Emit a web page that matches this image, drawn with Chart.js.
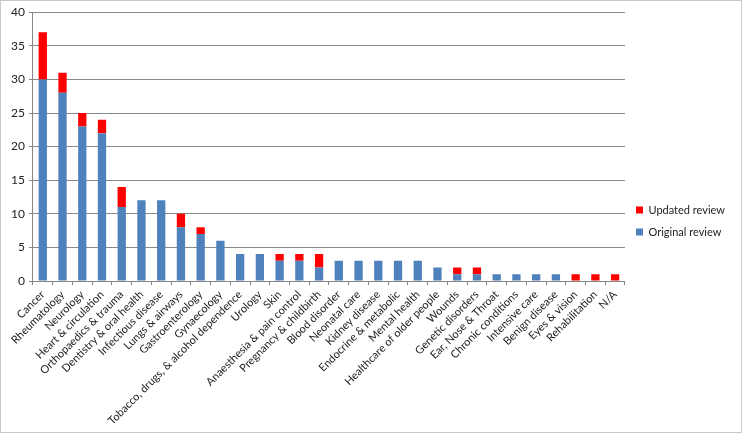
<!DOCTYPE html>
<html>
<head>
<meta charset="utf-8">
<script src="https://cdn.jsdelivr.net/npm/chart.js@4"></script>
<style>
  html, body { margin: 0; padding: 0; background: #fff; }
  .wrap { position: relative; width: 740px; height: 431px; border: 1px solid #c8c8c8; }
</style>
</head>
<body>
<div class="wrap"><canvas id="chart"></canvas></div>
<script>
const categories = [
  "Cancer", "Rheumatology", "Neurology", "Heart & circulation", "Orthopaedics & trauma",
  "Dentistry & oral health", "Infectious disease", "Lungs & airways", "Gastroenterology", "Gynaecology",
  "Tobacco, drugs, & alcohol dependence", "Urology", "Skin", "Anaesthesia & pain control", "Pregnancy & childbirth",
  "Blood disorder", "Neonatal care", "Kidney disease", "Endocrine & metabolic", "Mental health",
  "Healthcare of older people", "Wounds", "Genetic disorders", "Ear, Nose & Throat", "Chronic conditions",
  "Intensive care", "Benign disease", "Eyes & vision", "Rehabilitation", "N/A"
]
const originalReview = [30, 28, 23, 22, 11, 12, 12, 8, 7, 6, 4, 4, 3, 3, 2, 3, 3, 3, 3, 3, 2, 1, 1, 1, 1, 1, 1, 0, 0, 0]
const updatedReview  = [7, 3, 2, 2, 3, 0, 0, 2, 1, 0, 0, 0, 1, 1, 2, 0, 0, 0, 0, 0, 0, 1, 1, 0, 0, 0, 0, 1, 1, 1]

const font = { family: "Lato, 'Liberation Sans', sans-serif", size: 11 }

new Chart(document.getElementById("chart"), {
  type: "bar",
  data: {
    labels: categories,
    datasets: [
      { label: "Original review", data: originalReview, backgroundColor: "#4f81bd", barPercentage: 0.42, categoryPercentage: 1 },
      { label: "Updated review", data: updatedReview, backgroundColor: "#ff0000", barPercentage: 0.42, categoryPercentage: 1 }
    ]
  },
  options: {
    responsive: true,
    maintainAspectRatio: false,
    animation: false,
    layout: { padding: { top: 9, left: 6, right: 6, bottom: 0 } },
    scales: {
      x: {
        stacked: true,
        afterFit: (scale) => { scale.height = 151 },
        grid: { offset: true, drawOnChartArea: false, drawTicks: true, tickLength: 4, color: "#868686" },
        border: { color: "#868686" },
        ticks: { font, color: "#222", minRotation: 45, maxRotation: 45, autoSkip: false, padding: 3 }
      },
      y: {
        stacked: true,
        min: 0,
        max: 40,
        ticks: { stepSize: 5, font: { ...font, size: 12 }, color: "#222", padding: 4 },
        grid: { color: "#888", tickLength: 4 },
        border: { color: "#868686" }
      }
    },
    plugins: {
      legend: {
        position: "right",
        reverse: true,
        labels: { font, color: "#222", boxWidth: 7, boxHeight: 7, padding: 11 }
      },
      tooltip: { enabled: false }
    }
  }
})
</script>
</body>
</html>
